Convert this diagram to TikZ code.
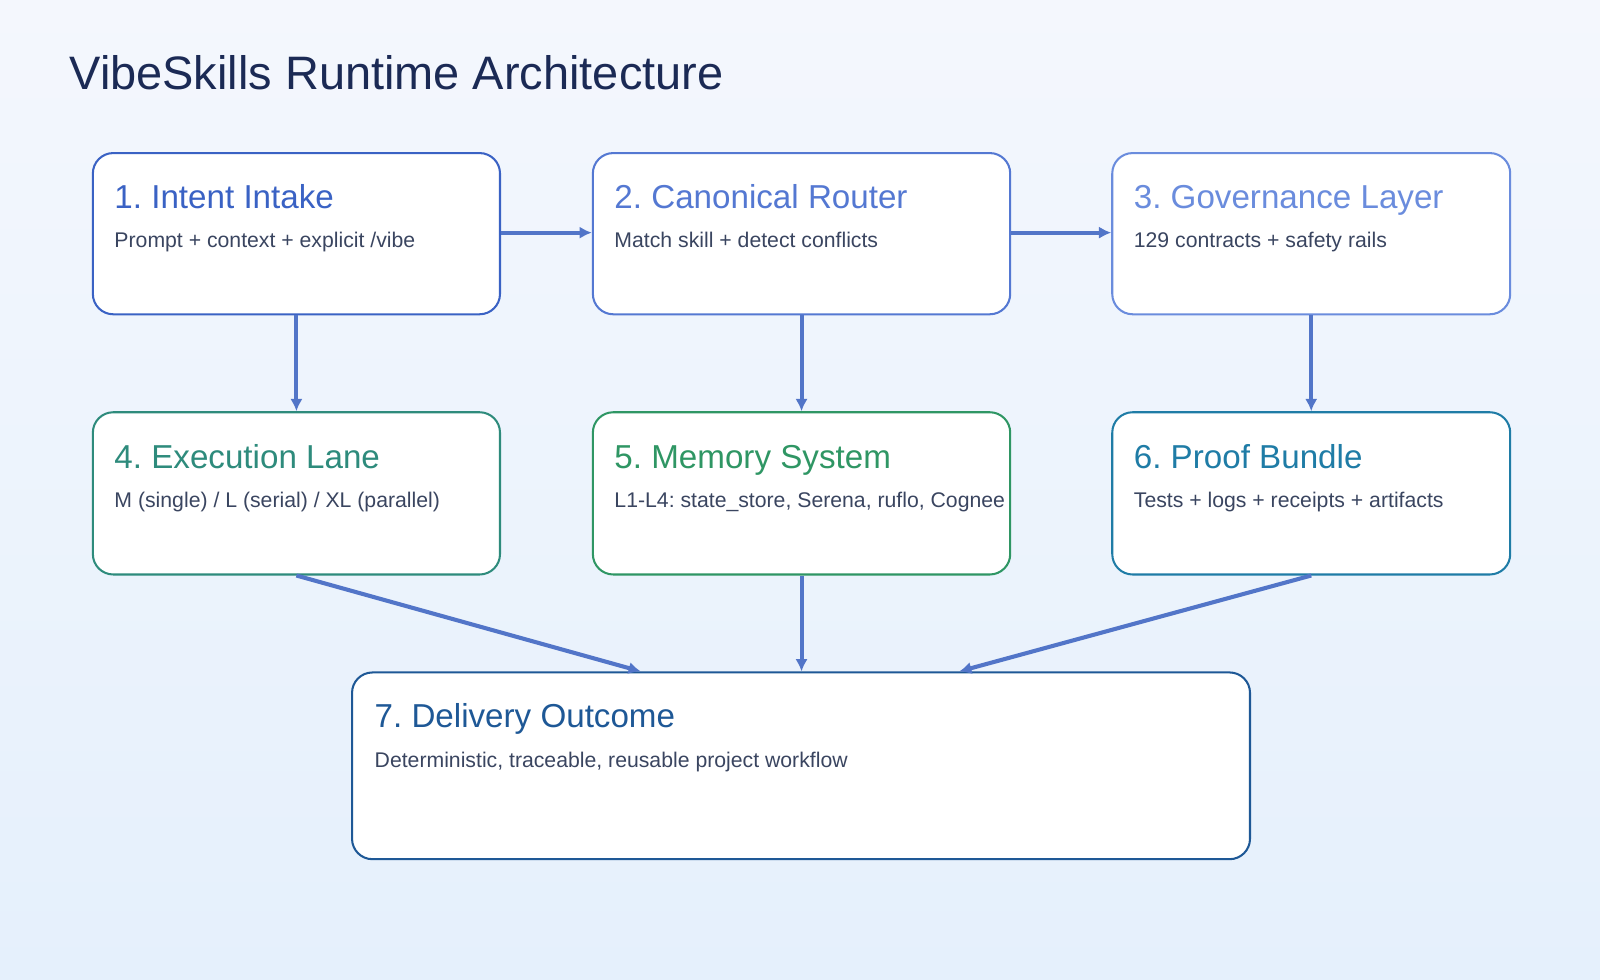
\documentclass[tikz,border=0pt]{standalone}
\usepackage{fontspec}
\setmainfont{Liberation Sans}
\usetikzlibrary{arrows.meta}
\definecolor{bgtop}{HTML}{F4F7FD}
\definecolor{bgbot}{HTML}{E5F0FC}
\definecolor{cA}{HTML}{3A62C4}
\definecolor{cB}{HTML}{5478D2}
\definecolor{cC}{HTML}{6A8CDD}
\definecolor{cD}{HTML}{2E8B7C}
\definecolor{cE}{HTML}{2F9664}
\definecolor{cF}{HTML}{1F7CA6}
\definecolor{cG}{HTML}{1E5896}
\definecolor{arr}{HTML}{5275C8}
\definecolor{sub}{HTML}{3A4560}
\definecolor{ttl}{HTML}{1B2A55}
\tikzset{
  box/.style={draw=#1, line width=2pt, fill=white, rounded corners=20pt},
  btitle/.style={anchor=base west, text=#1, font=\fontsize{32.5}{36}\selectfont, inner sep=0},
  bsub/.style={anchor=base west, text=sub, font=\fontsize{20.8}{24}\selectfont, inner sep=0},
  conn/.style={draw=arr, line width=4pt, -{Latex[length=12pt,width=12pt]}},
}
\frenchspacing
\begin{document}
\frenchspacing
\begin{tikzpicture}[x=1pt,y=-1pt]
\shade[top color=bgtop, bottom color=bgbot] (0,0) rectangle (1568,960);
\useasboundingbox (0,0) rectangle (1568,960);
\node[anchor=base west, inner sep=0, text=ttl, font=\fontsize{46}{52}\selectfont] (title) at (68,88) {VibeSkills Runtime Architecture};
% boxes
\node[box=cA, minimum width=399pt, minimum height=158pt, anchor=north west] (b1) at (90,149) {};
\node[box=cB, minimum width=409pt, minimum height=158pt, anchor=north west] (b2) at (580,149) {};
\node[box=cC, minimum width=390pt, minimum height=158pt, anchor=north west] (b3) at (1089,149) {};
\node[box=cD, minimum width=399pt, minimum height=159pt, anchor=north west] (b4) at (90,403) {};
\node[box=cE, minimum width=409pt, minimum height=159pt, anchor=north west] (b5) at (580,403) {};
\node[box=cF, minimum width=390pt, minimum height=159pt, anchor=north west] (b6) at (1089,403) {};
\node[box=cG, minimum width=880pt, minimum height=183pt, anchor=north west] (b7) at (344,658) {};
% texts
\node[btitle=cA] (t1) at (112,204) {1. Intent Intake};
\node[bsub] (s1) at (112,243) {Prompt + context + explicit /vibe};
\node[btitle=cB] (t2) at (602,204) {2. Canonical Router};
\node[bsub] (s2) at (602,243) {Match skill + detect conflicts};
\node[btitle=cC] (t3) at (1111,204) {3. Governance Layer};
\node[bsub] (s3) at (1111,243) {129 contracts + safety rails};
\node[btitle=cD] (t4) at (112,459) {4. Execution Lane};
\node[bsub] (s4) at (112,497) {M (single) / L (serial) / XL (parallel)};
\node[btitle=cE] (t5) at (602,459) {5. Memory System};
\node[bsub] (s5) at (602,497) {L1-L4: state\_store, Serena, ruflo, Cognee};
\node[btitle=cF] (t6) at (1111,459) {6. Proof Bundle};
\node[bsub] (s6) at (1111,497) {Tests + logs + receipts + artifacts};
\node[btitle=cG] (t7) at (367,713) {7. Delivery Outcome};
\node[bsub] (s7) at (367,752) {Deterministic, traceable, reusable project workflow};
% connectors
\coordinate (e7a) at (628,658);
\coordinate (e7c) at (940,658);
\draw[conn] (b1.east |- 0,228) -- (b2.west |- 0,228);
\draw[conn] (b2.east |- 0,228) -- (b3.west |- 0,228);
\draw[conn] (b1.south) -- (b4.north);
\draw[conn] (b2.south) -- (b5.north);
\draw[conn] (b3.south) -- (b6.north);
\draw[conn] (b4.south) -- (e7a);
\draw[conn] (b5.south) -- (b7.north -| b5.south);
\draw[conn] (b6.south) -- (e7c);
\end{tikzpicture}
\end{document}
